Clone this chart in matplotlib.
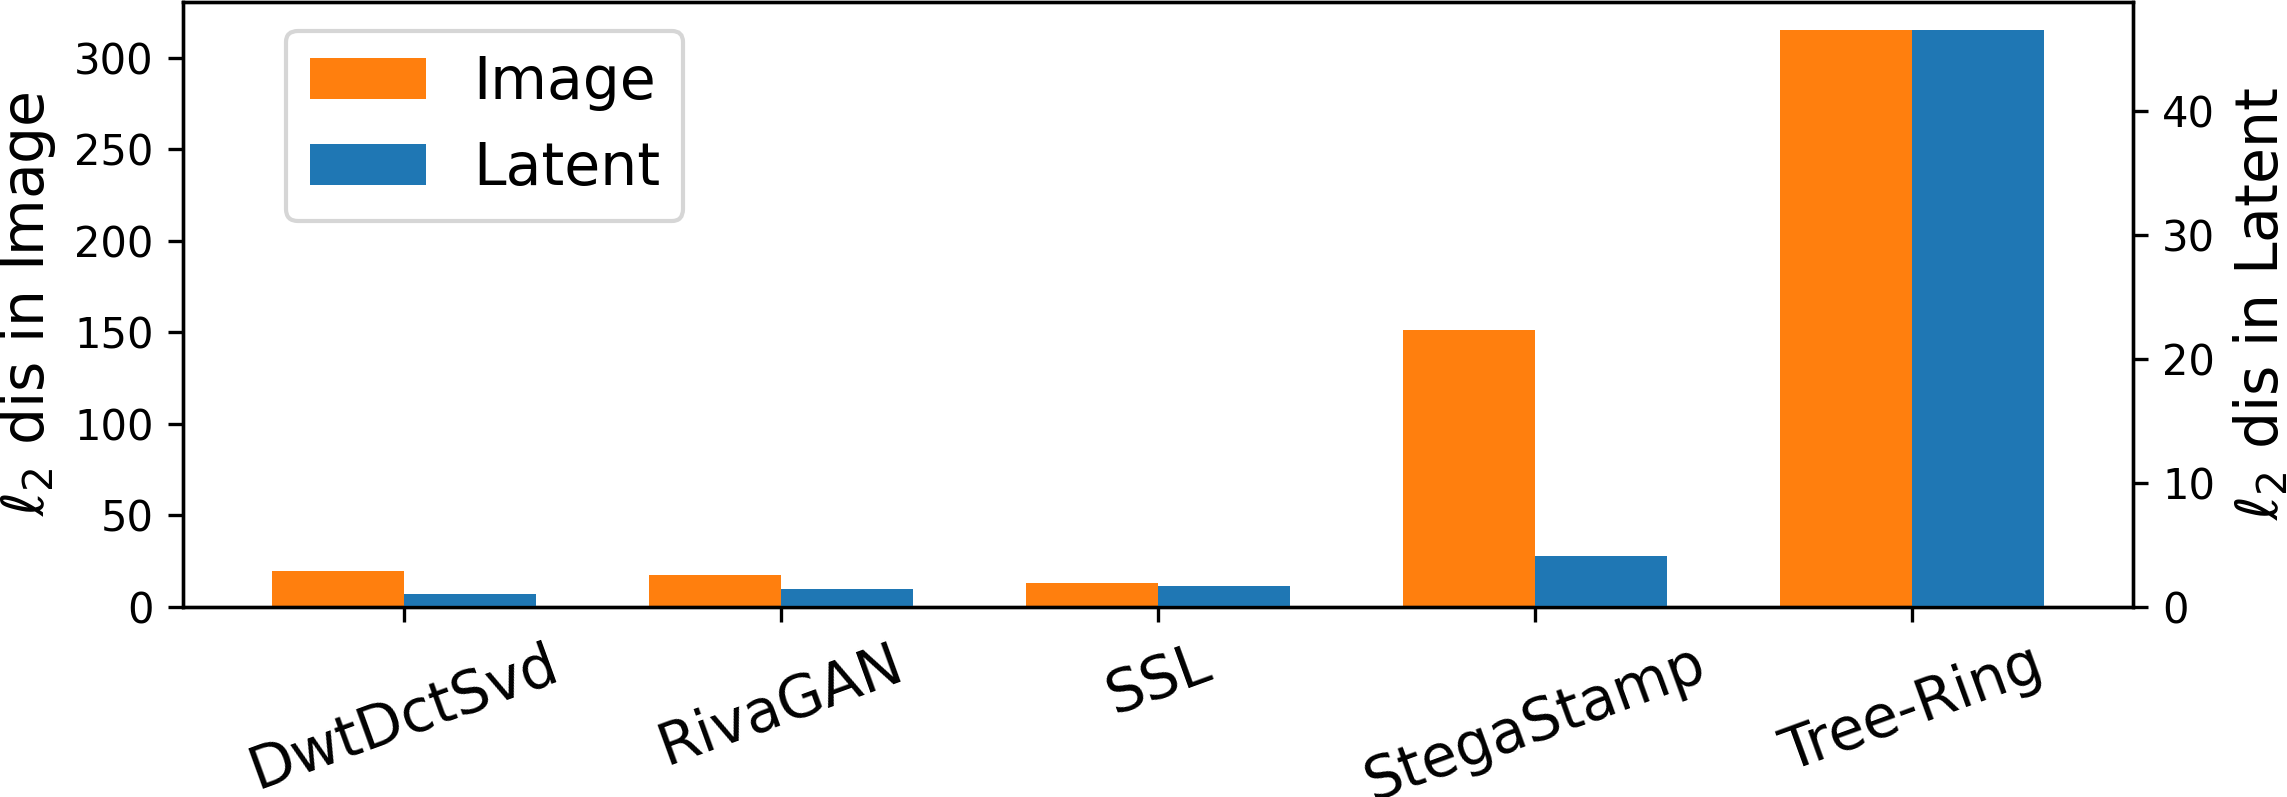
import numpy as np
import matplotlib
matplotlib.use("Agg")
import matplotlib.pyplot as plt

# data
methods = ["DwtDctSvd", "RivaGAN", "SSL", "StegaStamp", "Tree-Ring"]
dist_image = [19.4, 17.1, 12.9, 151.1, 315.1]
dist_latent = [1.01, 1.39, 1.65, 4.1, 46.5]

x = np.arange(len(methods))
width = 0.35

fig = plt.figure(figsize=(2287 / 300, 797 / 300), dpi=300)
ax1 = fig.add_axes([183 / 2287, 1 - 606.5 / 797, (2133 - 183) / 2287, (606.5 - 1.5) / 797])
ax2 = ax1.twinx()

b1 = ax1.bar(x - width / 2, dist_image, width, color="#ff7f0e", label="Image")
b2 = ax2.bar(x + width / 2, dist_latent, width, color="#1f77b4", label="Latent")

ax1.set_ylabel(r"$\ell_2$ dis in Image", fontsize=14)
ax2.set_ylabel(r"$\ell_2$ dis in Latent", fontsize=14)

ax1.set_xticks(x)
ax1.set_xticklabels(methods, fontsize=14, rotation=20, ha="center")

ax2.legend([b1, b2], ["Image", "Latent"], fontsize=14,
           loc="upper left", bbox_to_anchor=(0.038, 1.0))

fig.savefig("out.png", dpi=300)
